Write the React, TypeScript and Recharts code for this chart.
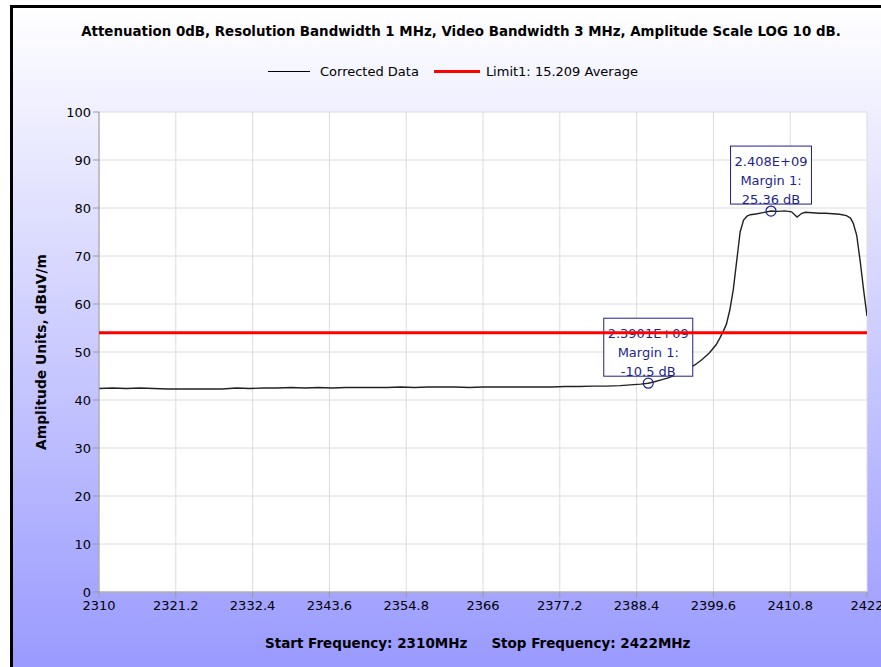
import { LineChart, Line, XAxis, YAxis, CartesianGrid, ReferenceDot } from "recharts"

const TITLE = "Attenuation 0dB, Resolution Bandwidth 1 MHz, Video Bandwidth 3 MHz, Amplitude Scale LOG 10 dB."
const FOOTER_START = "Start Frequency: 2310MHz"
const FOOTER_STOP = "Stop Frequency: 2422MHz"
const Y_LABEL = "Amplitude Units, dBuV/m"
const SERIES_NAMES = ["Corrected Data", "Limit1: 15.209 Average"]

const freqTicks = [2310, 2321.2, 2332.4, 2343.6, 2354.8, 2366, 2377.2, 2388.4, 2399.6, 2410.8, 2422]
const levelTicks = [0, 10, 20, 30, 40, 50, 60, 70, 80, 90, 100]

// trace, MHz / dBuV/m
const freqMHz = [
  2310, 2312, 2314, 2316, 2318, 2320, 2322, 2324, 2326, 2328,
  2330, 2332, 2334, 2336, 2338, 2340, 2342, 2344, 2346, 2348,
  2350, 2352, 2354, 2356, 2358, 2360, 2362, 2364, 2366, 2368,
  2370, 2372, 2374, 2376, 2378, 2380, 2382, 2384, 2386, 2388,
  2389, 2390.1, 2391, 2392, 2393, 2394, 2395, 2396, 2397, 2398,
  2399, 2400, 2400.5, 2401, 2401.5, 2402, 2402.5, 2403, 2403.5, 2404,
  2404.5, 2405, 2406, 2407, 2408, 2409, 2410, 2411, 2411.8, 2412.5,
  2413, 2414, 2415, 2416, 2417, 2418, 2419, 2419.6, 2420, 2420.5,
  2421, 2421.5, 2422,
]
const levels = [
  42.4, 42.5, 42.4, 42.5, 42.4, 42.3, 42.3, 42.3, 42.3, 42.3,
  42.5, 42.4, 42.5, 42.5, 42.6, 42.5, 42.6, 42.5, 42.6, 42.6,
  42.6, 42.6, 42.7, 42.6, 42.7, 42.7, 42.7, 42.6, 42.7, 42.7,
  42.7, 42.7, 42.7, 42.7, 42.8, 42.8, 42.9, 42.9, 43.0, 43.2,
  43.3, 43.5, 43.8, 44.2, 44.6, 45.2, 45.8, 46.6, 47.4, 48.5,
  49.8, 51.5, 52.8, 54.2, 55.8, 58.8, 63.0, 69.0, 75.0, 77.5,
  78.3, 78.6, 78.8, 79.1, 79.36, 79.3, 79.4, 79.2, 78.1, 78.9,
  79.1, 79.0, 78.9, 78.9, 78.8, 78.7, 78.4, 77.9, 76.8, 74.3,
  69.0, 63.0, 57.5,
]

const limitFreq = [2310, 2422]
const limitLevel = [54, 54]

const markerFreq = [2390.1, 2408]
const markerLevel = [43.5, 79.36]
const markerText = [
  ["2.3901E+09", "Margin 1:", "-10.5 dB"],
  ["2.408E+09", "Margin 1:", "25.36 dB"],
]

const NAVY = "#1f1f8f"
const FONT = "'DejaVu Sans', Verdana, sans-serif"

const traceData = freqMHz.map((f, i) => ({ freq: f, level: levels[i] }))
const limitData = limitFreq.map((f, i) => ({ freq: f, limit: limitLevel[i] }))

function MarkerBox({ cx, cy, lines }: { cx: number; cy: number; lines: string[] }) {
  const w = Math.max(...lines.map((l) => l.length)) * 8.1 + 8
  const h = 58
  const top = cy - 7 - h
  return (
    <g>
      <rect x={cx - w / 2} y={top} width={w} height={h} fill="#fff" stroke={NAVY} strokeWidth={1} />
      {lines.map((l, i) => (
        <text key={i} x={cx} y={top + 15 + i * 19} textAnchor="middle" dominantBaseline="central" fontSize={13} fill={NAVY} fontFamily={FONT}>
          {l}
        </text>
      ))}
      <circle cx={cx} cy={cy} r={5} fill="none" stroke={NAVY} strokeWidth={1.2} />
    </g>
  )
}

export default function App() {
  return (
    <div style={{ position: "absolute", left: 0, top: 0, width: 881, height: 667, overflow: "hidden", background: "#fff", fontFamily: FONT }}>
      <div
        style={{
          position: "absolute", left: 10, top: 5, width: 871, height: 662, boxSizing: "border-box",
          borderLeft: "3px solid #000", borderTop: "3px solid #000",
          background: "linear-gradient(to bottom, #ffffff 0%, #9a9aff 100%)",
        }}
      />
      <div style={{ position: "absolute", left: 0, width: 922, top: 24, textAlign: "center", fontSize: 13.4, fontWeight: "bold", color: "#000", whiteSpace: "nowrap" }}>
        {TITLE}
      </div>
      <div style={{ position: "absolute", left: 268, top: 64, display: "flex", alignItems: "center", fontSize: 13, color: "#000", whiteSpace: "nowrap" }}>
        <span style={{ display: "inline-block", width: 42, height: 1, background: "#000", marginRight: 10 }} />
        <span>{SERIES_NAMES[0]}</span>
        <span style={{ display: "inline-block", width: 46, height: 3, background: "#ff0000", marginLeft: 15, marginRight: 6 }} />
        <span>{SERIES_NAMES[1]}</span>
      </div>
      <div style={{ position: "absolute", left: 265, top: 635, fontSize: 13.5, fontWeight: "bold", color: "#000", whiteSpace: "nowrap" }}>
        <span>{FOOTER_START}</span>
        <span style={{ marginLeft: 24 }}>{FOOTER_STOP}</span>
      </div>
      <div style={{ position: "absolute", left: 0, top: 0 }}>
        <LineChart width={881} height={667} margin={{ top: 112, right: 14, bottom: 45, left: 39 }} style={{ fontFamily: FONT }}>
          <CartesianGrid stroke="#dcdcdc" fill="#ffffff" fillOpacity={1} />
          <XAxis
            dataKey="freq"
            type="number"
            domain={[2310, 2422]}
            ticks={freqTicks}
            interval={0}
            allowDataOverflow
            height={30}
            stroke="#9a9a9a"
            tickSize={6}
            tickMargin={3}
            tick={{ fontSize: 13, fill: "#000" }}
            tickFormatter={(v) => String(v)}
          />
          <YAxis
            type="number"
            domain={[0, 100]}
            ticks={levelTicks}
            interval={0}
            width={60}
            stroke="#9a9a9a"
            tickSize={6}
            tickMargin={2}
            tick={{ fontSize: 13, fill: "#000" }}
            label={(props: any) => {
              const vb = props.viewBox || {}
              const x = (vb.x ?? 39) + 2
              const y = (vb.y ?? 112) + (vb.height ?? 480) / 2
              return (
                <text x={x} y={y} transform={`rotate(-90, ${x}, ${y})`} textAnchor="middle" dominantBaseline="central" fontSize={13.8} fontWeight="bold" fill="#000" fontFamily={FONT}>
                  {Y_LABEL}
                </text>
              )
            }}
          />
          {markerFreq.map((f, i) => (
            <ReferenceDot
              key={i}
              x={f}
              y={markerLevel[i]}
              r={5}
              zIndex={500}
              shape={(p: any) => <MarkerBox cx={p.cx} cy={p.cy} lines={markerText[i]} />}
            />
          ))}
          <Line data={traceData} dataKey="level" name={SERIES_NAMES[0]} type="linear" stroke="#222" strokeWidth={1.4} dot={false} isAnimationActive={false} zIndex={400} />
          <Line data={limitData} dataKey="limit" name={SERIES_NAMES[1]} type="linear" stroke="#ff0000" strokeWidth={3} dot={false} isAnimationActive={false} zIndex={700} />
        </LineChart>
      </div>
    </div>
  )
}
